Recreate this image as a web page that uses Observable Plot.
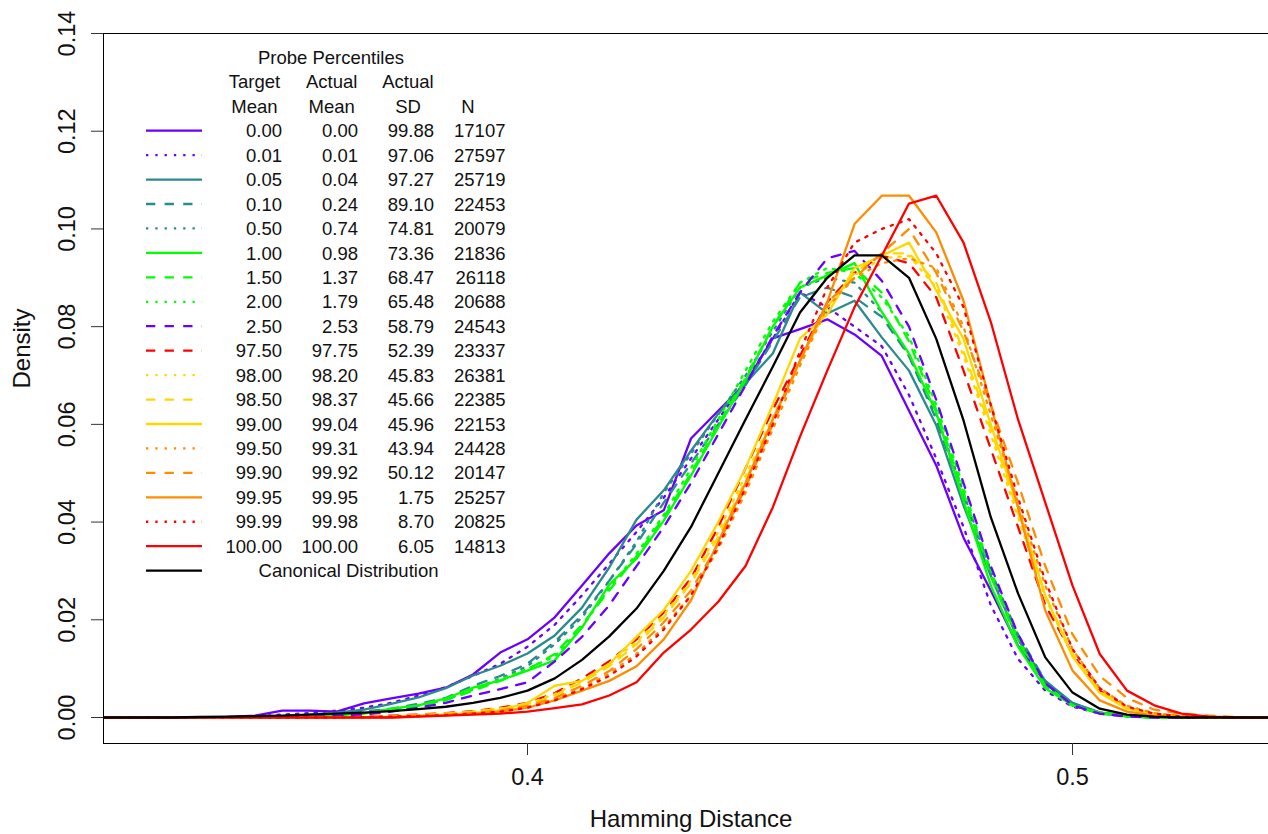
<!DOCTYPE html>
<html><head><meta charset="utf-8">
<script src="https://cdn.jsdelivr.net/npm/d3@7"></script>
<script src="https://cdn.jsdelivr.net/npm/@observablehq/plot@0.6"></script>
<style>
html,body{margin:0;padding:0;background:#fff;overflow:hidden;}
#chart{width:1268px;height:834px;}
</style></head><body><div id="chart"></div>
<script>
// Hamming distance grid
const hamming = [0.320,0.325,0.330,0.335,0.340,0.345,0.350,0.355,0.360,0.365,0.370,0.375,0.380,0.385,0.390,0.395,0.400,0.405,0.410,0.415,0.420,0.425,0.430,0.435,0.440,0.445,0.450,0.455,0.460,0.465,0.470,0.475,0.480,0.485,0.490,0.495,0.500,0.505,0.510,0.515,0.520,0.525,0.530,0.535,0.540];

// Density per series (target mean percentile)
const d000 = [0,0,0,0,0,0.0001, 0.0004,0.0014,0.0014,0.0012, 0.0029,0.0039,0.0049,0.0061,0.0088, 0.0133,0.0160,0.0205,0.0270,0.0336, 0.0393,0.0424,0.0571,0.0628,0.0684, 0.0776,0.0795,0.0815,0.0784,0.0740, 0.0628,0.0516,0.0368,0.0260,0.0147, 0.0072,0.0029,0.0010,0.0004,0.0001, 0,0,0,0,0];
const d001 = [0,0,0,0,0,0, 0.0002,0.0006,0.0009,0.0014, 0.0020,0.0030,0.0045,0.0062,0.0085, 0.0110,0.0145,0.0190,0.0250,0.0315, 0.0380,0.0450,0.0530,0.0610,0.0690, 0.0775,0.0870,0.0840,0.0800,0.0760, 0.0660,0.0530,0.0390,0.0230,0.0120, 0.0055,0.0022,0.0008,0.0003,0, 0,0,0,0,0];
const d005 = [0,0,0,0,0,0, 0.0001,0.0003,0.0006,0.0010, 0.0016,0.0028,0.0041,0.0060,0.0086, 0.0106,0.0131,0.0168,0.0225,0.0307, 0.0405,0.0465,0.0546,0.0622,0.0684, 0.0745,0.0870,0.0827,0.0853,0.0778, 0.0710,0.0598,0.0434,0.0290,0.0160, 0.0075,0.0030,0.0010,0.0003,0, 0,0,0,0,0];
const d010 = [0,0,0,0,0,0, 0,0,0.0003,0.0006, 0.0012,0.0018,0.0028,0.0040,0.0065, 0.0085,0.0110,0.0155,0.0210,0.0280, 0.0355,0.0440,0.0520,0.0600,0.0680, 0.0770,0.0860,0.0880,0.0860,0.0820, 0.0740,0.0610,0.0450,0.0300,0.0170, 0.0075,0.0028,0.0010,0.0003,0, 0,0,0,0,0];
const d050 = [0,0,0,0,0,0, 0,0,0.0002,0.0005, 0.0010,0.0016,0.0025,0.0036,0.0058, 0.0080,0.0105,0.0150,0.0205,0.0280, 0.0360,0.0460,0.0540,0.0620,0.0700, 0.0790,0.0880,0.0900,0.0890,0.0830, 0.0740,0.0620,0.0460,0.0300,0.0160, 0.0070,0.0025,0.0008,0.0002,0, 0,0,0,0,0];
const d100 = [0,0,0,0,0,0, 0,0,0.0002,0.0005, 0.0008,0.0018,0.0025,0.0039,0.0061, 0.0076,0.0096,0.0117,0.0184,0.0272, 0.0325,0.0403,0.0495,0.0594,0.0690, 0.0800,0.0880,0.0905,0.0930,0.0830, 0.0745,0.0624,0.0444,0.0270,0.0145, 0.0060,0.0025,0.0010,0.0003,0, 0,0,0,0,0];
const d150 = [0,0,0,0,0,0, 0,0,0.0002,0.0004, 0.0008,0.0015,0.0023,0.0035,0.0055, 0.0075,0.0098,0.0130,0.0190,0.0260, 0.0330,0.0410,0.0500,0.0600,0.0695, 0.0800,0.0890,0.0910,0.0920,0.0870, 0.0770,0.0630,0.0460,0.0290,0.0155, 0.0065,0.0025,0.0009,0.0003,0, 0,0,0,0,0];
const d200 = [0,0,0,0,0,0, 0,0,0.0002,0.0004, 0.0009,0.0016,0.0024,0.0037,0.0057, 0.0078,0.0100,0.0125,0.0185,0.0265, 0.0335,0.0415,0.0510,0.0610,0.0710, 0.0810,0.0890,0.0920,0.0910,0.0860, 0.0780,0.0640,0.0470,0.0300,0.0160, 0.0065,0.0024,0.0008,0.0002,0, 0,0,0,0,0];
const d250 = [0,0,0,0,0,0, 0,0,0.0001,0.0003, 0.0006,0.0012,0.0020,0.0030,0.0045, 0.0058,0.0072,0.0115,0.0165,0.0230, 0.0310,0.0390,0.0480,0.0580,0.0680, 0.0780,0.0870,0.0940,0.0955,0.0894, 0.0800,0.0650,0.0480,0.0310,0.0170, 0.0070,0.0025,0.0008,0.0002,0, 0,0,0,0,0];
const d9750 = [0,0,0,0,0,0, 0,0,0,0, 0.0002,0.0004,0.0006,0.0009,0.0013, 0.0020,0.0030,0.0050,0.0080,0.0115, 0.0160,0.0215,0.0285,0.0390,0.0510, 0.0630,0.0740,0.0850,0.0910,0.0945, 0.0930,0.0860,0.0710,0.0550,0.0390, 0.0230,0.0130,0.0055,0.0020,0.0007, 0.0002,0,0,0,0];
const d9800 = [0,0,0,0,0,0, 0,0,0,0, 0.0001,0.0003,0.0005,0.0008,0.0012, 0.0019,0.0028,0.0048,0.0075,0.0110, 0.0155,0.0210,0.0280,0.0380,0.0495, 0.0615,0.0730,0.0840,0.0905,0.0940, 0.0945,0.0880,0.0740,0.0580,0.0410, 0.0245,0.0125,0.0052,0.0019,0.0006, 0.0002,0,0,0,0];
const d9850 = [0,0,0,0,0,0, 0,0,0,0, 0.0001,0.0003,0.0005,0.0008,0.0012, 0.0018,0.0026,0.0045,0.0072,0.0105, 0.0150,0.0205,0.0275,0.0370,0.0485, 0.0610,0.0730,0.0840,0.0910,0.0950, 0.0950,0.0890,0.0750,0.0590,0.0420, 0.0250,0.0130,0.0055,0.0020,0.0007, 0.0002,0,0,0,0];
const d9900 = [0,0,0,0,0,0, 0,0,0,0, 0.0001,0.0002,0.0004,0.0006,0.0009, 0.0015,0.0030,0.0065,0.0075,0.0110, 0.0165,0.0220,0.0300,0.0400,0.0510, 0.0640,0.0776,0.0825,0.0920,0.0945, 0.0972,0.0874,0.0775,0.0600,0.0430, 0.0250,0.0125,0.0050,0.0018,0.0006, 0.0002,0,0,0,0];
const d9950 = [0,0,0,0,0,0, 0,0,0,0, 0.0001,0.0002,0.0003,0.0005,0.0008, 0.0013,0.0022,0.0038,0.0060,0.0090, 0.0130,0.0185,0.0250,0.0345,0.0460, 0.0590,0.0720,0.0840,0.0900,0.0930, 0.0940,0.0920,0.0800,0.0620,0.0440, 0.0270,0.0140,0.0060,0.0024,0.0009, 0.0003,0,0,0,0];
const d9990 = [0,0,0,0,0,0, 0,0,0,0, 0.0001,0.0002,0.0004,0.0006,0.0009, 0.0014,0.0024,0.0040,0.0065,0.0095, 0.0140,0.0195,0.0260,0.0355,0.0470, 0.0600,0.0730,0.0850,0.0900,0.0950, 0.1000,0.0910,0.0790,0.0640,0.0480, 0.0310,0.0170,0.0085,0.0040,0.0016, 0.0008,0.0004,0.0001,0,0];
const d9995 = [0,0,0,0,0,0, 0,0,0,0, 0,0,0.0003,0.0005,0.0008, 0.0012,0.0020,0.0035,0.0055,0.0075, 0.0105,0.0160,0.0240,0.0360,0.0480, 0.0610,0.0730,0.0850,0.1010,0.1068, 0.1068,0.0993,0.0853,0.0640,0.0430, 0.0219,0.0096,0.0035,0.0012,0.0004, 0.0001,0,0,0,0];
const d9999 = [0,0,0,0,0,0, 0,0,0,0, 0.0001,0.0002,0.0003,0.0005,0.0008, 0.0012,0.0020,0.0035,0.0058,0.0085, 0.0125,0.0180,0.0250,0.0350,0.0470, 0.0600,0.0750,0.0880,0.0972,0.1000, 0.1020,0.0950,0.0840,0.0640,0.0450, 0.0280,0.0140,0.0060,0.0022,0.0008, 0.0002,0,0,0,0];
const d10000 = [0,0,0,0,0,0, 0,0,0,0, 0,0,0.0002,0.0004,0.0006, 0.0008,0.0012,0.0019,0.0027,0.0045, 0.0072,0.0133,0.0180,0.0237,0.0310, 0.0430,0.0575,0.0710,0.0840,0.0945, 0.1052,0.1068,0.0972,0.0810,0.0610, 0.0440,0.0270,0.0130,0.0055,0.0025, 0.0008,0.0002,0,0,0];
const canonical = [0,0,0,0,0.0001,0.0002, 0.0003,0.0004,0.0006,0.0008, 0.0010,0.0013,0.0017,0.0022,0.0030, 0.0040,0.0055,0.0080,0.0118,0.0166, 0.0223,0.0300,0.0390,0.0500,0.0610, 0.0718,0.0829,0.0900,0.0946,0.0946, 0.0900,0.0775,0.0608,0.0410,0.0254, 0.0123,0.0051,0.0018,0.0006,0.0002, 0,0,0,0,0];

// Legend table
const targetMean = ["0.00","0.01","0.05","0.10","0.50","1.00","1.50","2.00","2.50","97.50","98.00","98.50","99.00","99.50","99.90","99.95","99.99","100.00"];
const actualMean = ["0.00","0.01","0.04","0.24","0.74","0.98","1.37","1.79","2.53","97.75","98.20","98.37","99.04","99.31","99.92","99.95","99.98","100.00"];
const actualSD   = ["99.88","97.06","97.27","89.10","74.81","73.36","68.47","65.48","58.79","52.39","45.83","45.66","45.96","43.94","50.12","1.75","8.70","6.05"];
const countN     = ["17107","27597","25719","22453","20079","21836","26118","20688","24543","23337","26381","22385","22153","24428","20147","25257","20825","14813"];
const seriesValues = [d000,d001,d005,d010,d050,d100,d150,d200,d250,d9750,d9800,d9850,d9900,d9950,d9990,d9995,d9999,d10000,canonical];
const canonicalLabel = "Canonical Distribution";

const yTicks = [0,0.02,0.04,0.06,0.08,0.10,0.12,0.14];
const xTicks = [0.4,0.5];

// styles (kept separate from data)
const PURPLE="#6a00ff", TEAL="#2b8a8d", GREEN="#00ff00", RED="#ff0000", YELLOW="#ffd700", ORANGE="#ff8c00", BLACK="#000000";
const seriesColor = [PURPLE,PURPLE,TEAL,TEAL,TEAL,GREEN,GREEN,GREEN,PURPLE,RED,YELLOW,YELLOW,YELLOW,ORANGE,ORANGE,ORANGE,RED,RED,BLACK];
const seriesStyle = ["solid","dotted","solid","dashed","dotted","solid","dashed","dotted","dashed","dashed","dotted","dashed","solid","dotted","dashed","solid","dotted","solid","solid"];
const LW = 2.3;
const dashFor = s => s === "dotted" ? "2.3,7" : s === "dashed" ? "9.3,9.3" : null;

const xDomain = [0.3222, 0.53596];
const yDomain = [-0.00532, 0.14];
const FONT = "'Liberation Sans', Arial, Helvetica, sans-serif";

const lineMarks = seriesValues.map((vals, k) => {
  const rows = hamming.map((h, i) => ({x: h, y: vals[i]}));
  return Plot.line(rows, {x: "x", y: "y", stroke: seriesColor[k], strokeWidth: LW,
    strokeDasharray: dashFor(seriesStyle[k]), strokeLinejoin: "round", clip: true});
});

const chart = Plot.plot({
  width: 1268, height: 834,
  marginLeft: 103, marginRight: 0, marginTop: 33, marginBottom: 91,
  style: {fontFamily: FONT, fontSize: "23.5px", background: "#fff", color: "#000"},
  x: {domain: xDomain},
  y: {domain: yDomain},
  marks: [
    ...lineMarks,
    Plot.ruleY([yDomain[0], yDomain[1]], {stroke: "#000", strokeWidth: 1}),
    Plot.ruleX([xDomain[0]], {stroke: "#000", strokeWidth: 1}),
    Plot.axisY({ticks: yTicks, tickSize: 12, tickFormat: () => "", label: null, stroke: "#333"}),
    Plot.text(yTicks, {y: d => d, frameAnchor: "left", dx: -36, rotate: -90, text: d => d.toFixed(2),
      fontSize: 23.5, textAnchor: "middle", lineAnchor: "middle", fill: "#111"}),
    Plot.axisX({ticks: xTicks, tickSize: 12, tickPadding: 13, tickFormat: d => d.toFixed(1), label: null,
      fontSize: 23.5, stroke: "#333", fill: "#111"}),
    Plot.text(["Density"], {frameAnchor: "left", dx: -81, rotate: -90, text: d => d, fontSize: 24, lineAnchor: "middle", fill: "#111"}),
    Plot.text(["Hamming Distance"], {frameAnchor: "bottom", dx: 5, dy: 76, text: d => d, fontSize: 24, lineAnchor: "middle", fill: "#111"})
  ]
});
document.getElementById("chart").appendChild(chart);

// Legend (inside plot, top-left)
const svg = d3.select(chart);
const lg = svg.append("g").attr("font-family", FONT).attr("font-size", 18.5).attr("fill", "#111");
const rowY = i => 130.7 + i * 24.44;
const textRow = (str, x, i, anchor) => lg.append("text").attr("x", x).attr("y", rowY(i) + 6.6)
  .attr("text-anchor", anchor).text(str);
textRow("Probe Percentiles", 331, -3, "middle");
textRow("Target", 254.5, -2, "middle");
textRow("Actual", 331.7, -2, "middle");
textRow("Actual", 408, -2, "middle");
textRow("Mean", 254.5, -1, "middle");
textRow("Mean", 331.7, -1, "middle");
textRow("SD", 408, -1, "middle");
textRow("N", 468, -1, "middle");
for (let i = 0; i < seriesValues.length; i++) {
  lg.append("line").attr("x1", 146).attr("x2", 202).attr("y1", rowY(i)).attr("y2", rowY(i))
    .attr("stroke", seriesColor[i]).attr("stroke-width", LW)
    .attr("stroke-dasharray", dashFor(seriesStyle[i]));
  if (i < targetMean.length) {
    textRow(targetMean[i], 282, i, "end");
    textRow(actualMean[i], 358, i, "end");
    textRow(actualSD[i], 434, i, "end");
    textRow(countN[i], 505.5, i, "end");
  } else {
    textRow(canonicalLabel, 348.5, i, "middle");
  }
}
</script></body></html>
